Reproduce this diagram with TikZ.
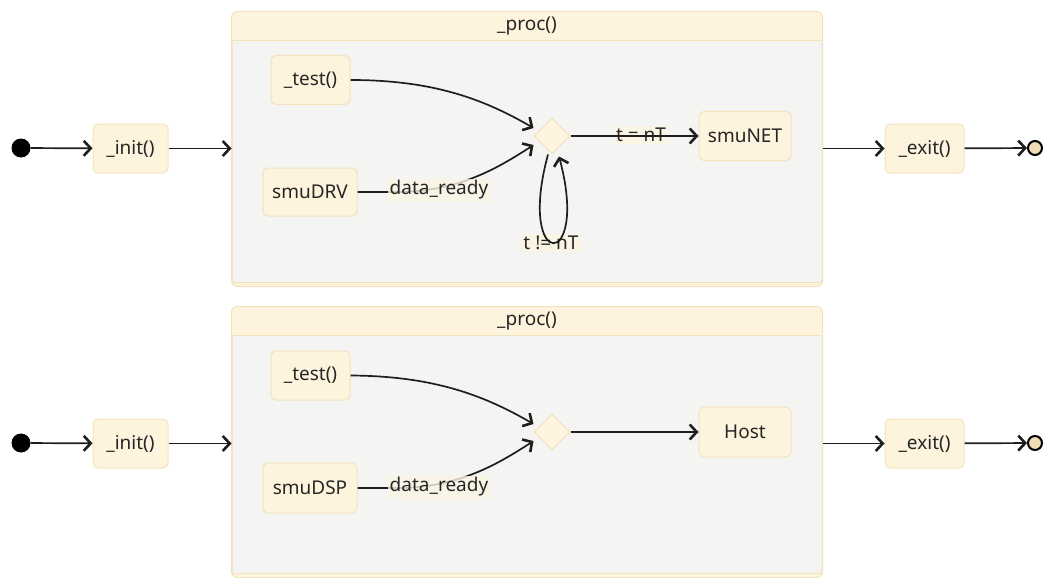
\documentclass[tikz,border=0pt]{standalone}
\usepackage{fontspec}
\setmainfont{Noto Sans}
\usetikzlibrary{arrows.meta,shapes.geometric}

\definecolor{boxfill}{HTML}{FEF4DD}
\definecolor{boxline}{HTML}{F2E2BE}
\definecolor{panel}{HTML}{F4F4F2}
\definecolor{ink}{HTML}{1E1E1E}
\definecolor{txt}{HTML}{262626}
\definecolor{labelbg}{HTML}{FAF4E4}
\definecolor{endfill}{HTML}{EEDDB6}

\tikzset{
  txtfont/.style={font=\fontsize{19}{22}\selectfont, text=txt},
  state/.style={txtfont, draw=boxline, fill=boxfill, rounded corners=5pt,
    line width=1pt, inner sep=0pt},
  container/.style={draw=boxline, fill=panel, rounded corners=6pt,
    line width=1pt, inner sep=0pt, minimum width=590pt},
  choice/.style={diamond, draw=boxline, fill=boxfill, line width=1pt,
    minimum width=36pt, minimum height=36pt, inner sep=0pt},
  startdot/.style={circle, fill=black, minimum size=19pt, inner sep=0pt},
  enddot/.style={circle, draw=black, fill=endfill, line width=2pt,
    minimum size=14pt, inner sep=0pt},
  elabel/.style={txtfont, fill=labelbg, inner sep=2pt},
  arr/.style={draw=ink, line width=1.7pt,
    -{Straight Barb[length=7pt,width=15pt,line width=2.6pt]}},
}

\begin{document}
\begin{tikzpicture}[x=1pt,y=-1pt]
\useasboundingbox (0,0) rectangle (1045,578);

% ---------- composite states ----------
\node[container, minimum height=274pt] (proc1) at (527,149) {};
\node[container, minimum height=270pt] (proc2) at (527,442) {};

\foreach \p in {proc1,proc2}{
  \begin{scope}
    \clip[rounded corners=6pt] (\p.north west) rectangle (\p.south east);
    \fill[boxfill] (\p.north west) rectangle ([yshift=-29pt]\p.north east);
    \fill[boxfill] ([yshift=4pt]\p.south west) rectangle (\p.south east);
  \end{scope}
  \draw[boxline, line width=1pt] ([yshift=-29pt]\p.north west) -- ([yshift=-29pt]\p.north east);
  \draw[boxline, line width=1pt] ([yshift=4pt]\p.south west) -- ([yshift=4pt]\p.south east);
  \draw[boxline, line width=1pt, rounded corners=6pt] (\p.north west) rectangle (\p.south east);
}
\node[txtfont] (title1) at ([yshift=-14.5pt]proc1.north) {\_proc()};
\node[txtfont] (title2) at ([yshift=-14.5pt]proc2.north) {\_proc()};

% ---------- upper machine ----------
\node[startdot] (s1) at (21,148) {};
\node[state, minimum width=75pt, minimum height=49pt] (init1) at (130.5,148.5) {\_init()};
\node[state, minimum width=79pt, minimum height=49pt] (exit1) at (924.5,148.5) {\_exit()};
\node[enddot] (e1) at (1035,148) {};

\node[state, minimum width=79pt, minimum height=49pt] (test1) at (310.5,80) {\_test()};
\node[state, minimum width=94pt, minimum height=48pt] (drv) at (310,192) {smuDRV};
\node[choice] (c1) at (552,136) {};
\node[state, minimum width=92pt, minimum height=49pt] (net) at (745,136) {smuNET};

\draw[arr] (s1) -- (init1);
\draw[arr] (init1.east) -- (init1.east -| proc1.west);
\draw[arr] (proc1.east |- exit1.west) -- (exit1.west);
\draw[arr] (exit1) -- (e1);

\draw[arr] (test1.east) .. controls (435,80) and (485,100) .. ([yshift=8pt]c1.west);
\draw[arr] (drv.east) -- (392,192) .. controls (455,193) and (495,170) .. ([yshift=-9pt]c1.west);
\node[elabel, fill opacity=0.8, text opacity=1] (lab1) at (439,190) {data\_ready};

\node[elabel] (lab2) at (641,135) {t = nT};
\draw[arr] (c1.east) -- (net.west);

\node[elabel] (lab3) at (551,243) {t != nT};
\draw[arr] ([xshift=-4pt]c1.south) .. controls (516,272) and (590,272) .. ([xshift=7pt,yshift=-2pt]c1.south);

% ---------- lower machine ----------
\node[startdot] (s2) at (21,443) {};
\node[state, minimum width=75pt, minimum height=49pt] (init2) at (130.5,443.5) {\_init()};
\node[state, minimum width=79pt, minimum height=49pt] (exit2) at (924.5,443.5) {\_exit()};
\node[enddot] (e2) at (1035,443) {};

\node[state, minimum width=79pt, minimum height=49pt] (test2) at (310.5,375.5) {\_test()};
\node[state, minimum width=94pt, minimum height=50pt] (dsp) at (310,488) {smuDSP};
\node[choice] (c2) at (552,432) {};
\node[state, minimum width=92pt, minimum height=50pt] (host) at (745,432) {Host};

\draw[arr] (s2) -- (init2);
\draw[arr] (init2.east) -- (init2.east -| proc2.west);
\draw[arr] (proc2.east |- exit2.west) -- (exit2.west);
\draw[arr] (exit2) -- (e2);

\draw[arr] (test2.east) .. controls (435,376) and (485,396) .. ([yshift=8pt]c2.west);
\draw[arr] (dsp.east) -- (392,488) .. controls (455,489) and (495,466) .. ([yshift=-9pt]c2.west);
\node[elabel, fill opacity=0.8, text opacity=1] (lab4) at (439,487) {data\_ready};

\draw[arr] (c2.east) -- (host.west);
\end{tikzpicture}
\end{document}
